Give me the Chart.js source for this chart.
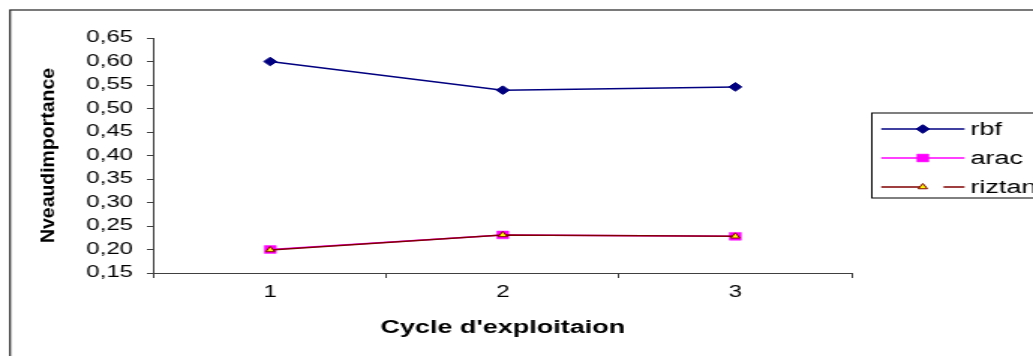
<!DOCTYPE html>
<html>
<head>
<meta charset="utf-8">
<title>Niveau d'importance</title>
<script src="https://cdn.jsdelivr.net/npm/chart.js@4.4.1/dist/chart.umd.min.js"></script>
<style>
  html, body { margin: 0; padding: 0; background: #fff; overflow: hidden; }
</style>
</head>
<body>
<!-- the source picture is stretched sideways, so the canvas is drawn narrow and widened by css -->
<canvas id="chart" width="689" height="356" style="display:block;width:1033px;height:356px"></canvas>
<script>
// data
const cycles = ['1', '2', '3'];
const rbf = [0.600, 0.539, 0.546];
const arac = [0.200, 0.231, 0.228];
const riztan = [0.199, 0.231, 0.228];
const yMin = 0.15;
const yMax = 0.65;
const yStep = 0.05;

const FONT = '"Liberation Sans", Arial, sans-serif';
const AXIS = '#404040';

// frame round the whole chart, the y title and the boxed legend on the right
const decorations = {
    id: 'decorations',
    afterDraw(chart) {
        const ctx = chart.ctx;
        const area = chart.chartArea;

        ctx.save();
        ctx.strokeStyle = '#222';
        ctx.lineWidth = 1.2;
        ctx.strokeRect(6.7, 10, 800, 500);

        // y title, squeezed like the original
        const yTitle = chart.options.scales.y.title.text;
        ctx.font = 'bold 14px ' + FONT;
        const w = ctx.measureText(yTitle).width;
        ctx.translate(32.7, (area.top + area.bottom) / 2);
        ctx.rotate(-Math.PI / 2);
        ctx.scale(175 / w, 0.9);
        ctx.textAlign = 'center';
        ctx.textBaseline = 'middle';
        ctx.fillStyle = '#000';
        ctx.fillText(yTitle, 0, 0);
        ctx.restore();

        // legend
        const box = { left: 581.5, top: 113, bottom: 198 };
        ctx.save();
        ctx.fillStyle = '#fff';
        ctx.fillRect(box.left, box.top, 200, box.bottom - box.top);
        ctx.strokeStyle = '#000';
        ctx.lineWidth = 1;
        ctx.strokeRect(box.left, box.top, 200, box.bottom - box.top);

        chart.data.datasets.forEach((ds, i) => {
            const y = 129 + i * 29;
            ctx.strokeStyle = ds.borderColor;
            ctx.lineWidth = ds.borderWidth;
            ctx.beginPath();
            if (i === 2) {
                ctx.moveTo(587.8, y); ctx.lineTo(617.5, y);
                ctx.moveTo(629.3, y); ctx.lineTo(643.3, y);
            } else {
                ctx.moveTo(587.8, y); ctx.lineTo(643.3, y);
            }
            ctx.stroke();

            ctx.fillStyle = ds.pointBackgroundColor;
            ctx.strokeStyle = ds.pointBorderColor;
            ctx.lineWidth = ds.pointBorderWidth;
            Chart.helpers.drawPoint(ctx, {
                pointStyle: ds.pointStyle,
                radius: ds.pointRadius,
                borderWidth: ds.pointBorderWidth,
                rotation: 0
            }, 615.5, y);

            ctx.fillStyle = '#000';
            ctx.font = '18px ' + FONT;
            ctx.textAlign = 'left';
            ctx.textBaseline = 'middle';
            ctx.fillText(ds.label, 647.3, y + 1);
        });
        ctx.restore();
    }
};

new Chart(document.getElementById('chart'), {
    type: 'line',
    data: {
        labels: cycles,
        datasets: [
            {
                label: 'rbf',
                data: rbf,
                borderColor: '#000080',
                borderWidth: 1.5,
                pointStyle: 'rectRot',
                pointRadius: 4.3,
                pointBorderWidth: 1,
                pointBackgroundColor: '#000080',
                pointBorderColor: '#000080',
                order: 0
            },
            {
                label: 'arac',
                data: arac,
                borderColor: '#FF00FF',
                borderWidth: 1.5,
                pointStyle: 'rect',
                pointRadius: 5.5,
                pointBorderWidth: 0.5,
                pointBackgroundColor: '#FF00FF',
                pointBorderColor: '#FF00FF',
                order: 2
            },
            {
                label: 'riztan',
                data: riztan,
                borderColor: '#800000',
                borderWidth: 1.5,
                pointStyle: 'triangle',
                pointRadius: 3.5,
                pointBorderWidth: 1,
                pointBackgroundColor: '#FFFF00',
                pointBorderColor: '#800000',
                order: 1
            }
        ]
    },
    options: {
        responsive: false,
        maintainAspectRatio: false,
        devicePixelRatio: 1,
        animation: false,
        layout: { padding: { top: 38, right: 121, bottom: 0, left: 0 } },
        plugins: {
            legend: { display: false },
            tooltip: { enabled: false }
        },
        elements: { line: { tension: 0 } },
        scales: {
            x: {
                type: 'category',
                offset: true,
                afterFit: (scale) => { scale.height = 83; },
                grid: { offset: true, drawOnChartArea: false, tickLength: 5, color: AXIS, lineWidth: 1 },
                border: { display: true, color: AXIS, width: 1 },
                ticks: { color: '#000', font: { family: FONT, size: 16 }, padding: 5 },
                title: {
                    display: true,
                    text: "Cycle d'exploitaion",
                    color: '#000',
                    font: { family: FONT, size: 18, weight: 'bold' },
                    padding: { top: 0, bottom: 17 }
                }
            },
            y: {
                min: yMin,
                max: yMax,
                afterFit: (scale) => { scale.width = 102.7; },
                grid: { drawOnChartArea: false, tickLength: 4.7, color: AXIS, lineWidth: 1 },
                border: { display: true, color: AXIS, width: 1 },
                ticks: {
                    stepSize: yStep,
                    color: '#000',
                    font: { family: FONT, size: 16 },
                    padding: 9.3,
                    callback: (v) => v.toFixed(2).replace('.', ',')
                },
                title: { display: false, text: 'Nveaudimportance' }
            }
        }
    },
    plugins: [decorations]
});
</script>
</body>
</html>
